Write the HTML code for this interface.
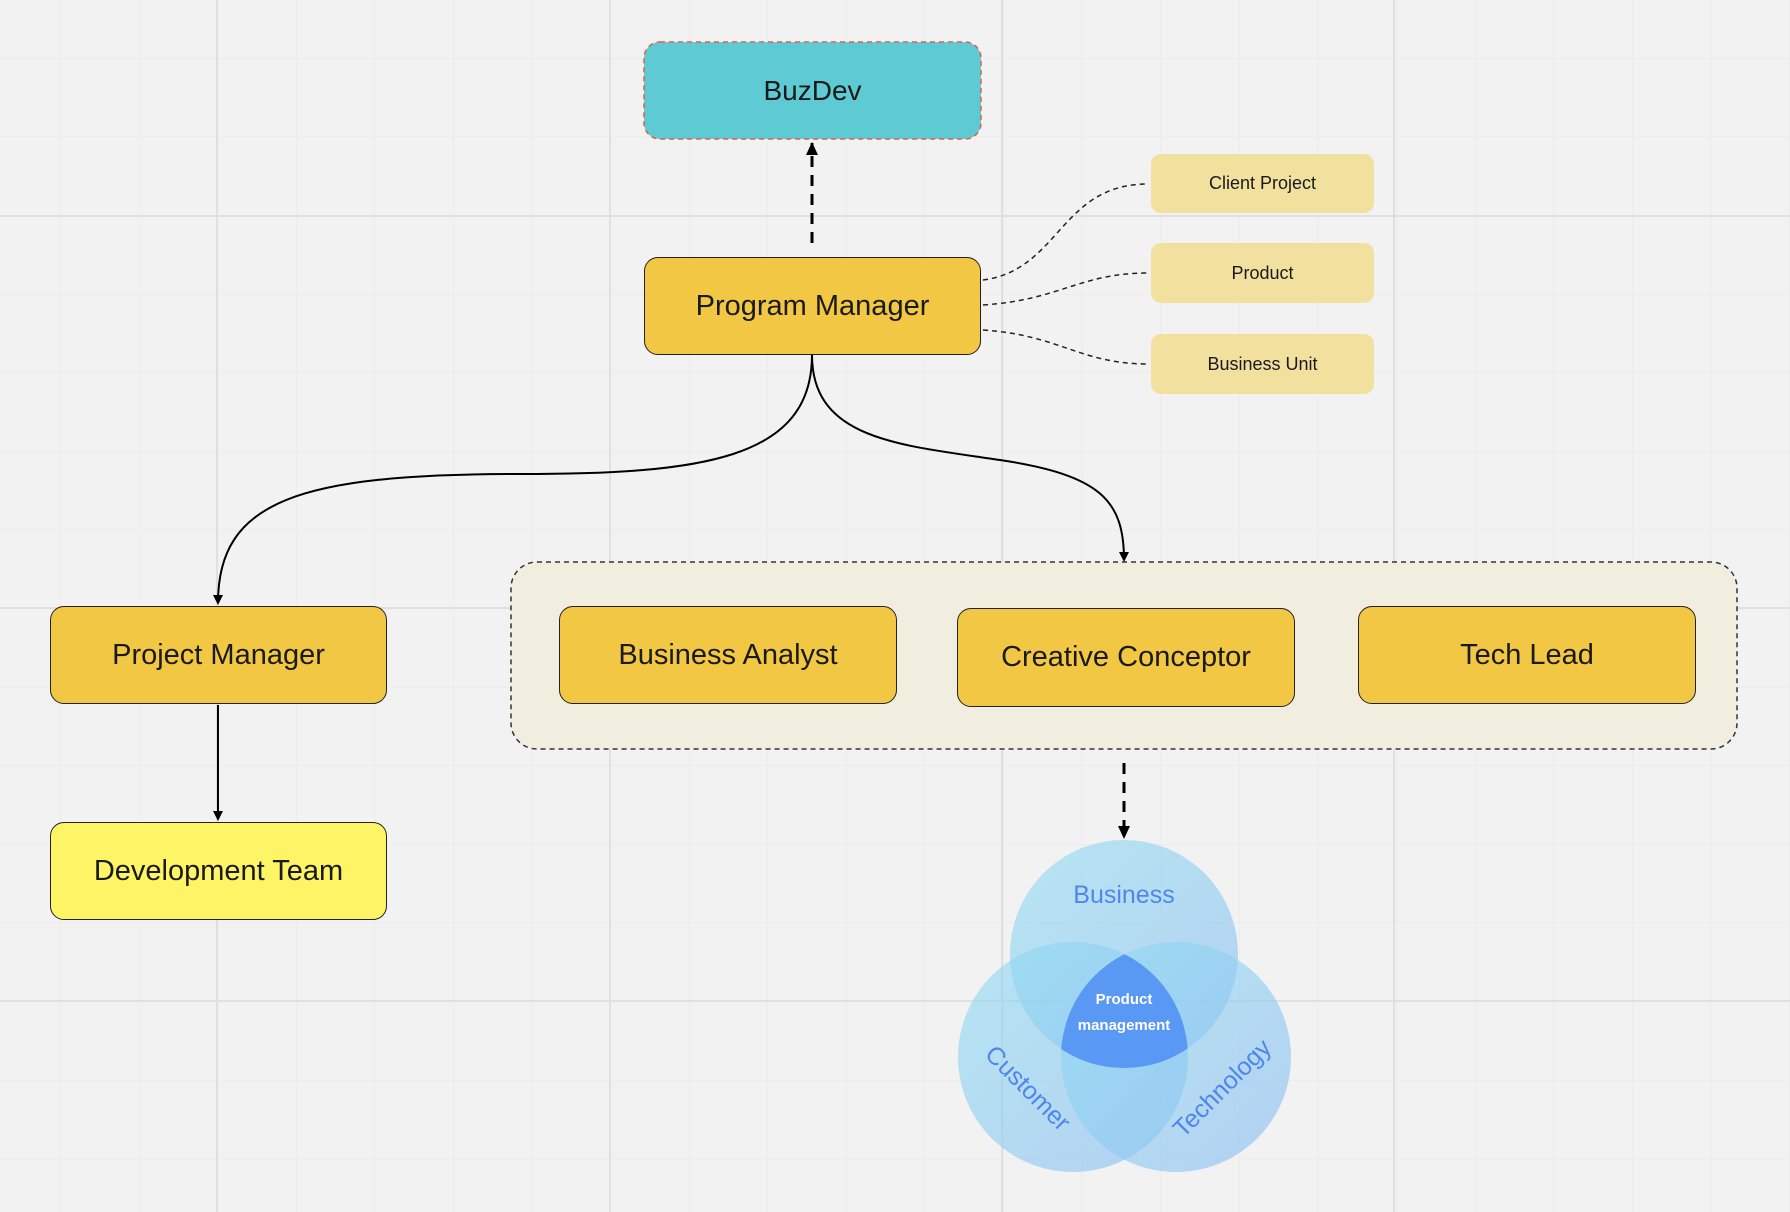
<!DOCTYPE html>
<html><head><meta charset="utf-8"><style>
html,body{margin:0;padding:0}
body{width:1790px;height:1212px;background:#f2f2f2;position:relative;overflow:hidden;font-family:"Liberation Sans",sans-serif}
.b{position:absolute;box-sizing:border-box;display:flex;align-items:center;justify-content:center;color:#1a1a1a}
.y{background:#f2c744;border:1.5px solid #222;border-radius:14px;font-size:29px}
.s{background:#f2e09f;border-radius:10px;font-size:18px}
</style></head><body>
<svg width="1790" height="1212" style="position:absolute;left:0;top:0">
<defs>
<pattern id="g" width="78.6" height="78.6" patternUnits="userSpaceOnUse" x="-18" y="-20"><path d="M78.6 0V78.6M0 78.6H78.6" stroke="#e6e6e6" stroke-width="1" fill="none"/></pattern>
<marker id="a" markerWidth="10" markerHeight="10" refX="8" refY="5" orient="auto" markerUnits="userSpaceOnUse"><path d="M0,0 L10,5 L0,10 Z" fill="#000"/></marker>
<marker id="a2" markerWidth="14" markerHeight="14" refX="12" refY="7" orient="auto" markerUnits="userSpaceOnUse"><path d="M0,1 L13,7 L0,13 Z" fill="#000"/></marker>
</defs>
<rect width="1790" height="1212" fill="url(#g)"/>
<g stroke="#e0e0e0" stroke-width="2"><path d="M217 0V1212M610 0V1212M1002 0V1212M1394 0V1212M0 216H1790M0 608H1790M0 1001H1790"/></g>
<rect x="511" y="562" width="1226" height="187" rx="26" fill="#f2eedf" stroke="#333" stroke-width="1.5" stroke-dasharray="5,4"/>
<rect x="644" y="42" width="337" height="97" rx="16" fill="#5ecad3" stroke="#e0604a" stroke-width="1.5" stroke-dasharray="5,4"/>
<g fill="none" stroke="#000" stroke-width="2">
<path d="M812 243V143" stroke-width="3" stroke-dasharray="11,8" marker-end="url(#a2)"/>
<path d="M812 355C812 460 700 474 520 474C300 474 218 500 218 603" marker-end="url(#a)"/>
<path d="M812 355C812 440 900 445 1000 460C1100 475 1124 500 1124 560" marker-end="url(#a)"/>
<path d="M218 705V819" marker-end="url(#a)"/>
<path d="M1124 763V838" stroke-width="3" stroke-dasharray="11,8" marker-end="url(#a2)"/>
</g>
<g fill="none" stroke="#222" stroke-width="1.5" stroke-dasharray="5,4">
<path d="M983 280C1060 270 1060 184 1148 184"/>
<path d="M983 305C1060 300 1080 273 1148 273"/>
<path d="M983 330C1060 335 1080 364 1148 364"/>
</g>
<defs>
<linearGradient id="c" x1="0" y1="0" x2="1" y2="1"><stop offset="0" stop-color="#8fdcf2" stop-opacity=".6"/><stop offset="1" stop-color="#8fbef2" stop-opacity=".65"/></linearGradient>
<clipPath id="k1"><circle cx="1124" cy="954" r="114"/></clipPath>
<clipPath id="k2"><circle cx="1073" cy="1057" r="115"/></clipPath>
</defs>
<circle cx="1124" cy="954" r="114" fill="url(#c)"/>
<circle cx="1073" cy="1057" r="115" fill="url(#c)"/>
<circle cx="1176" cy="1057" r="115" fill="url(#c)"/>
<g clip-path="url(#k1)"><g clip-path="url(#k2)"><circle cx="1176" cy="1057" r="115" fill="#4f8ef5" opacity=".85"/></g></g>
<g font-family="Liberation Sans,sans-serif" fill="#4f86ec" font-size="25">
<text x="1124" y="903" text-anchor="middle">Business</text>
<text transform="translate(1022,1094) rotate(45)" text-anchor="middle">Customer</text>
<text transform="translate(1228,1094) rotate(-45)" text-anchor="middle">Technology</text>
</g>
<g font-family="Liberation Sans,sans-serif" fill="#fff" font-size="15" font-weight="bold" text-anchor="middle">
<text x="1124" y="1004">Product</text><text x="1124" y="1030">management</text>
</g>
</svg>
<div class="b" style="left:644px;top:42px;width:337px;height:97px;font-size:28px">BuzDev</div>
<div class="b y" style="left:644px;top:257px;width:337px;height:98px">Program Manager</div>
<div class="b s" style="left:1151px;top:154px;width:223px;height:59px">Client Project</div>
<div class="b s" style="left:1151px;top:243px;width:223px;height:60px">Product</div>
<div class="b s" style="left:1151px;top:334px;width:223px;height:60px">Business Unit</div>
<div class="b y" style="left:50px;top:606px;width:337px;height:98px">Project Manager</div>
<div class="b y" style="left:50px;top:822px;width:337px;height:98px;background:#fdf565">Development Team</div>
<div class="b y" style="left:559px;top:606px;width:338px;height:98px">Business Analyst</div>
<div class="b y" style="left:957px;top:608px;width:338px;height:99px">Creative Conceptor</div>
<div class="b y" style="left:1358px;top:606px;width:338px;height:98px">Tech Lead</div>
</body></html>
